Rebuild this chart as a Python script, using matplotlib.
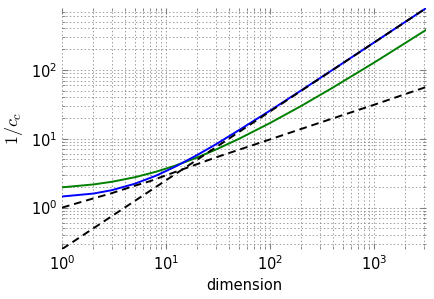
import matplotlib
matplotlib.use("Agg")
import matplotlib.pyplot as plt

# dimension values the curves were read at
dims = [1, 2, 3, 5, 8, 12, 19, 30, 50, 100, 200, 400, 1000, 3162]
blue_vals = [1.45, 1.60, 1.79, 2.22, 2.91, 3.88, 5.58, 8.28, 13.3, 25.7, 50.7, 100.6, 250.7, 791]
green_vals = [1.97, 2.17, 2.37, 2.76, 3.32, 4.03, 5.20, 6.95, 9.95, 16.96, 30.1, 55.3, 127.8, 382]

# the two dashed reference lines
lin_dims = [1, 3.16, 10, 31.6, 100, 316, 1000, 3162]
lin_vals = [0.25, 0.79, 2.5, 7.9, 25, 79, 250, 790]
sq_dims = [1, 2, 3, 5, 7, 10, 30, 100, 300, 1000, 3162]
sq_vals = [1.0, 1.36, 1.62, 2.08, 2.42, 2.95, 5.35, 9.8, 17.1, 31.2, 56.5]

plt.rcParams['lines.scale_dashes'] = False
plt.rcParams['font.size'] = 10.5
plt.rcParams['mathtext.fontset'] = 'cm'

fig = plt.figure(figsize=(4.34, 2.99), dpi=100)
ax = fig.add_axes([0.143, 0.167, 0.839, 0.806])

ax.plot(dims, green_vals, color=(0, 0.5, 0), lw=1.4)
ax.plot(dims, blue_vals, color=(0, 0, 1), lw=1.4)
ax.plot(lin_dims, lin_vals, color="k", lw=1.4, dashes=(5.5, 3.5))
ax.plot(sq_dims, sq_vals, color="k", lw=1.4, dashes=(5.5, 3.5))

ax.set_xscale("log")
ax.set_yscale("log")
ax.set_xlim(1, 3162)
ax.set_ylim(0.25, 791)

ax.grid(True, which="both", color="0.45", linestyle=":", linewidth=0.5)
for s in ax.spines.values():
    s.set_visible(False)
ax.tick_params(which="both", direction="in", top=True, right=True, color="0.5")
ax.tick_params(which="major", length=4)
ax.tick_params(which="minor", length=2)

ax.set_xlabel("dimension")
ax.set_ylabel("$1/c_c$", fontsize=13, labelpad=4)

fig.savefig("out.png", dpi=100)
